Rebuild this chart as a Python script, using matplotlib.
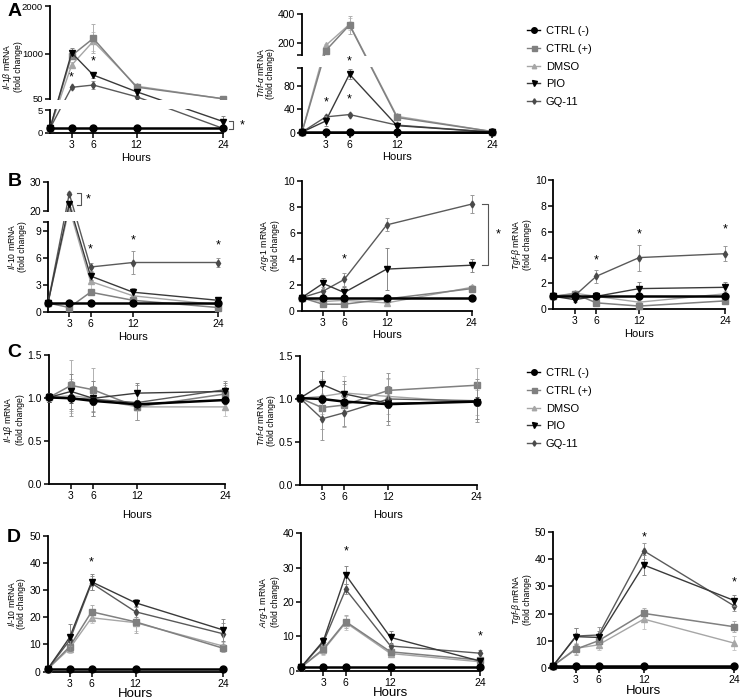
import numpy as np
import matplotlib
matplotlib.use("Agg")
import matplotlib.pyplot as plt
from matplotlib.lines import Line2D

plt.rcParams['font.family'] = ['Liberation Sans', 'DejaVu Sans']
plt.rcParams['mathtext.fontset'] = 'custom'
plt.rcParams['mathtext.rm'] = 'Liberation Sans'
plt.rcParams['mathtext.it'] = 'Liberation Sans:italic'
plt.rcParams['axes.linewidth'] = 1.3

hours = [0, 3, 6, 12, 24]
groups = ["CTRL (-)", "CTRL (+)", "DMSO", "PIO", "GQ-11"]

# ---- A: LPS stimulation, pro-inflammatory ----
a_il1b = [[1, 1, 1, 1, 1],
          [1, 960, 1320, 300, 56],
          [1, 760, 1260, 320, 54],
          [1, 1020, 553, 203, 2.5],
          [1, 295, 343, 98, 1.0]]
a_il1b_err = [[0, 0, 0, 0, 0],
              [0, 80, 300, 40, 3],
              [0, 60, 200, 30, 3],
              [0, 100, 60, 20, 1.3],
              [0, 30, 80, 15, 0.3]]

a_tnf = [[1, 1, 1, 1, 1],
         [1, 150, 325, 26, 2],
         [1, 185, 330, 28, 2],
         [1, 20, 100, 12, 1],
         [1, 27, 31, 13, 1]]
a_tnf_err = [[0, 0, 0, 0, 0],
             [0, 15, 60, 5, 0.5],
             [0, 10, 40, 4, 0.5],
             [0, 8, 8, 3, 0.3],
             [0, 3, 3, 2, 0.3]]

# ---- B: LPS stimulation, anti-inflammatory ----
b_il10 = [[1, 1, 1, 1, 1],
          [1, 0.5, 2.2, 1.3, 0.5],
          [1, 21, 3.4, 1.8, 0.8],
          [1, 22.3, 4.0, 2.2, 1.3],
          [1, 26, 5.0, 5.5, 5.5]]
b_il10_err = [[0, 0, 0, 0, 0],
              [0, 0.1, 0.3, 0.3, 0.1],
              [0, 1, 0.8, 0.7, 0.2],
              [0, 1, 0.4, 0.5, 0.2],
              [0, 0.5, 0.4, 1.3, 0.5]]

b_arg1 = [[1, 1, 1, 1, 1],
          [1, 0.5, 0.5, 0.9, 1.7],
          [1, 0.7, 0.8, 0.6, 1.8],
          [1, 2.1, 1.4, 3.2, 3.5],
          [1, 1.5, 2.4, 6.6, 8.2]]
b_arg1_err = [[0, 0, 0, 0, 0],
              [0, 0.1, 0.1, 0.1, 0.2],
              [0, 0.1, 0.1, 0.1, 0.2],
              [0, 0.4, 0.4, 1.6, 0.5],
              [0, 0.3, 0.5, 0.5, 0.7]]

b_tgfb = [[1, 1, 1, 1, 1],
          [1, 1.2, 0.5, 0.25, 0.65],
          [1, 1.25, 1.0, 0.55, 1.2],
          [1, 0.75, 1.0, 1.6, 1.7],
          [1, 1.05, 2.55, 4.0, 4.3]]
b_tgfb_err = [[0, 0, 0, 0, 0],
              [0, 0.2, 0.1, 0.1, 0.1],
              [0, 0.2, 0.2, 0.2, 0.2],
              [0, 0.2, 0.3, 0.5, 0.45],
              [0, 0.2, 0.5, 1.0, 0.6]]

# ---- C: IL-4 stimulation, pro-inflammatory ----
c_il1b = [[1.01, 1.0, 0.97, 0.93, 0.98],
          [1.01, 1.15, 1.10, 0.90, 1.05],
          [1.01, 1.03, 1.0, 0.90, 0.90],
          [1.01, 1.08, 1.0, 1.06, 1.08],
          [1.01, 1.0, 0.99, 0.95, 1.10]]
c_il1b_err = [[0.05, 0.05, 0.05, 0.05, 0.05],
              [0.05, 0.3, 0.25, 0.15, 0.1],
              [0.05, 0.2, 0.2, 0.15, 0.1],
              [0.05, 0.2, 0.2, 0.12, 0.1],
              [0.05, 0.2, 0.15, 0.2, 0.1]]

c_tnf = [[1.01, 1.0, 0.97, 0.94, 0.97],
         [1.01, 0.90, 0.93, 1.10, 1.16],
         [1.01, 1.03, 1.07, 1.03, 0.96],
         [1.01, 1.17, 1.06, 0.95, 0.97],
         [1.01, 0.77, 0.84, 1.0, 0.98]]
c_tnf_err = [[0.05, 0.05, 0.05, 0.05, 0.05],
             [0.05, 0.25, 0.25, 0.15, 0.2],
             [0.05, 0.2, 0.2, 0.2, 0.15],
             [0.05, 0.15, 0.15, 0.2, 0.2],
             [0.05, 0.25, 0.15, 0.3, 0.25]]

# ---- D: IL-4 stimulation, anti-inflammatory ----
d_il10 = [[1, 1, 1, 1, 1],
          [1, 9.2, 22, 18.3, 8.6],
          [1, 8.5, 19.8, 18, 9.4],
          [1, 12.6, 33, 25.3, 15.3],
          [1, 11.5, 32.5, 22, 13.9]]
d_il10_err = [[0, 0, 0, 0, 0],
              [0, 2, 2.5, 4, 1.5],
              [0, 1.5, 2, 3, 1.5],
              [0, 5, 3, 1.5, 4],
              [0, 2, 2.5, 2, 4]]

d_arg1 = [[1, 1, 1, 1, 1],
          [1, 6.3, 14.3, 5.5, 3.1],
          [1, 6, 14, 5, 2.6],
          [1, 8.7, 27.9, 9.7, 2.8],
          [1, 8.3, 23.7, 7.2, 5.1]]
d_arg1_err = [[0, 0, 0, 0, 0],
              [0, 1.5, 2, 1.2, 0.8],
              [0, 1.5, 2, 1, 0.5],
              [0, 1, 2.5, 2, 0.5],
              [0, 1, 1.5, 1, 1]]

d_tgfb = [[1, 1, 1, 1, 1],
          [1, 7, 10.1, 20.1, 15.2],
          [1, 7.3, 8.6, 18, 9.2],
          [1, 11.6, 11.3, 37.8, 24.8],
          [1, 11.8, 12.2, 43, 22.8]]
d_tgfb_err = [[0, 0, 0, 0, 0],
              [0, 2, 2, 2, 2],
              [0, 2, 2, 3.5, 2.5],
              [0, 3, 2.5, 3.5, 2],
              [0, 3, 3, 3, 2]]

styles = [
    dict(color='black', marker='o', ms=5, lw=1.8, mfc='black', mec='black', ecolor='#555555', z=6),
    dict(color='#808080', marker='s', ms=4.5, lw=1.1, mfc='#808080', mec='#808080', ecolor='#b0b0b0', z=3),
    dict(color='#a6a6a6', marker='^', ms=4, lw=1.0, mfc='#a6a6a6', mec='#a6a6a6', ecolor='#c8c8c8', z=2),
    dict(color='#3a3a3a', marker='v', ms=4.5, lw=1.0, mfc='black', mec='black', ecolor='#888888', z=5),
    dict(color='#5a5a5a', marker='d', ms=3.5, lw=1.0, mfc='#4a4a4a', mec='#4a4a4a', ecolor='#999999', z=4),
]

W, H = 741, 699
fig = plt.figure(figsize=(W / 100, H / 100), dpi=100)


def add_ax(x0, ytop, x1, ybot):
    return fig.add_axes([x0 / W, 1 - ybot / H, (x1 - x0) / W, (ybot - ytop) / H])


def broken_scale(ax, vals, pix):
    ax.set_yscale('function', functions=(lambda v: np.interp(v, vals, pix),
                                         lambda p: np.interp(p, pix, vals)))
    ax.set_ylim(vals[0], vals[-1])
    # white band over the gap
    lo = np.interp(pix[1] + 1.0, pix, vals)
    hi = np.interp(pix[2] - 1.0, pix, vals)
    ax.axhspan(lo, hi, xmin=-0.02, xmax=1.03, facecolor='white',
               edgecolor='none', zorder=7, clip_on=False)


def draw(ax, data, err, ylabel, yticks, ylabels=None, ylim=None,
         xlabel_size=8, xlabel_pad=2):
    for i in [2, 1, 4, 3, 0]:
        st = styles[i]
        cont = ax.errorbar(hours, data[i], yerr=err[i], color=st['color'], lw=st['lw'],
                           marker=st['marker'], ms=st['ms'], mfc=st['mfc'], mec=st['mec'],
                           ecolor=st['ecolor'], elinewidth=0.7, capsize=1.5, capthick=0.7,
                           zorder=st['z'])
        for art in cont.get_children():
            art.set_clip_on(False)
    ax.set_xlim(0, 24)
    if ylim is not None:
        ax.set_ylim(*ylim)
    ax.set_xticks([3, 6, 12, 24])
    ax.set_xticklabels(['3', '6', '12', '24'])
    ax.set_yticks(yticks)
    if ylabels is not None:
        ax.set_yticklabels(ylabels)
    ax.minorticks_off()
    ax.tick_params(direction='out', length=3.5, width=1.1, labelsize=7.5, pad=1.5)
    for s in ['top', 'right']:
        ax.spines[s].set_visible(False)
    ax.set_xlabel('Hours', fontsize=xlabel_size, labelpad=xlabel_pad)
    ax.set_ylabel(ylabel, fontsize=6.2, labelpad=2, linespacing=1.05)


def stars(ax, pts):
    for x, y in pts:
        ax.text(x, y, '*', ha='center', va='center', fontsize=9, zorder=9, clip_on=False)


def bracket(ax, x, y0, y1, arm=0.5, star_dx=1.2):
    ax.plot([x - arm, x, x, x - arm], [y0, y0, y1, y1], color='#555555', lw=0.8,
            clip_on=False, zorder=9)
    ax.text(x + star_dx, (y0 + y1) / 2, '*', ha='center', va='center', fontsize=9,
            clip_on=False, zorder=9)


def ylab(gene, suffix):
    return r'$\it{' + gene + '}$-$\it{' + suffix + '}$ mRNA\n(fold change)'


# A left
ax = add_ax(50, 6, 223, 133)
broken_scale(ax, [0, 5, 50, 2000], [0, 23, 34, 127])
draw(ax, a_il1b, a_il1b_err, ylab('Il', r'1\beta'), [0, 5, 50, 1000, 2000])
ax.tick_params(axis='y', labelsize=6.8)
ax.yaxis.set_label_coords(-27 / 173, 0.52)
stars(ax, [(3, 497), (6, 832)])
bracket(ax, 25.4, 0.9, 2.6, arm=0.5, star_dx=1.3)

# A middle
ax = add_ax(302, 14, 492, 132.7)
broken_scale(ax, [0, 110, 120, 400], [0, 64.4, 77.7, 118.7])
draw(ax, a_tnf, a_tnf_err, ylab('Tnf', r'\alpha'), [0, 40, 80, 110, 120, 200, 400],
     ['0', '40', '80', '', '', '200', '400'])
stars(ax, [(3, 51), (6, 115.5), (6, 57.5)])

# B left
ax = add_ax(48, 182, 218, 312)
broken_scale(ax, [0, 10, 20, 30], [0, 90, 101, 130])
draw(ax, b_il10, b_il10_err, ylab('Il', '10'), [0, 3, 6, 9, 10, 20, 30],
     ['0', '3', '6', '9', '', '20', '30'])
stars(ax, [(6, 7.0), (12, 7.9), (24, 7.4)])
bracket(ax, 4.7, 22.0, 26.2, arm=0.6, star_dx=1.0)

# B middle
ax = add_ax(301.7, 180.7, 471.7, 310.7)
draw(ax, b_arg1, b_arg1_err, ylab('Arg', '1'), [0, 2, 4, 6, 8, 10], ylim=(0, 10))
stars(ax, [(6, 3.95)])
bracket(ax, 26.3, 3.5, 8.2, arm=0.8, star_dx=1.5)

# B right
ax = add_ax(553.3, 180, 725, 309.3)
draw(ax, b_tgfb, b_tgfb_err, ylab('Tgf', r'\beta'), [0, 2, 4, 6, 8, 10], ylim=(0, 10))
stars(ax, [(6, 3.8), (12, 5.8), (24, 6.2)])

# C left
ax = add_ax(49, 355.3, 225, 484.3)
draw(ax, c_il1b, c_il1b_err, ylab('Il', r'1\beta'), [0, 0.5, 1.0, 1.5],
     ['0.0', '0.5', '1.0', '1.5'], ylim=(0, 1.5), xlabel_pad=6)

# C middle
ax = add_ax(300, 356, 476.7, 485)
draw(ax, c_tnf, c_tnf_err, ylab('Tnf', r'\alpha'), [0, 0.5, 1.0, 1.5],
     ['0.0', '0.5', '1.0', '1.5'], ylim=(0, 1.5), xlabel_pad=6)

# D left
ax = add_ax(47.7, 535.5, 223.3, 671.7)
draw(ax, d_il10, d_il10_err, ylab('Il', '10'), [0, 10, 20, 30, 40, 50], ylim=(0, 50),
     xlabel_size=9.5, xlabel_pad=-0.5)
stars(ax, [(6, 40)])

# D middle
ax = add_ax(301, 533.4, 480, 670.7)
draw(ax, d_arg1, d_arg1_err, ylab('Arg', '1'), [0, 10, 20, 30, 40], ylim=(0, 40),
     xlabel_size=9.5, xlabel_pad=-0.5)
stars(ax, [(6, 34.7), (24, 10.1)])

# D right
ax = add_ax(553.3, 531.7, 734.3, 668.3)
draw(ax, d_tgfb, d_tgfb_err, ylab('Tgf', r'\beta'), [0, 10, 20, 30, 40, 50], ylim=(0, 50),
     xlabel_size=9.5, xlabel_pad=-0.5)
stars(ax, [(12, 48), (24, 31.4)])

# panel letters
for letter, (px, py) in zip('ABCD', [(8, 12), (8, 182), (7, 353), (7, 537)]):
    fig.text(px / W, 1 - py / H, letter, fontsize=14, fontweight='bold',
             ha='left', va='center')

# legends
handles = [Line2D([], [], color=st['color'], marker=st['marker'], ms=st['ms'] * 0.8,
                  mfc=st['mfc'], mec=st['mec'], lw=1.0) for st in styles]
for ytop in [26, 368]:
    fig.legend(handles, groups, loc='upper left', bbox_to_anchor=(527 / W, 1 - ytop / H),
               frameon=False, fontsize=8, handlelength=1.2, handletextpad=0.5,
               labelspacing=0.7, borderaxespad=0, borderpad=0)

fig.savefig('out.png', dpi=100)
